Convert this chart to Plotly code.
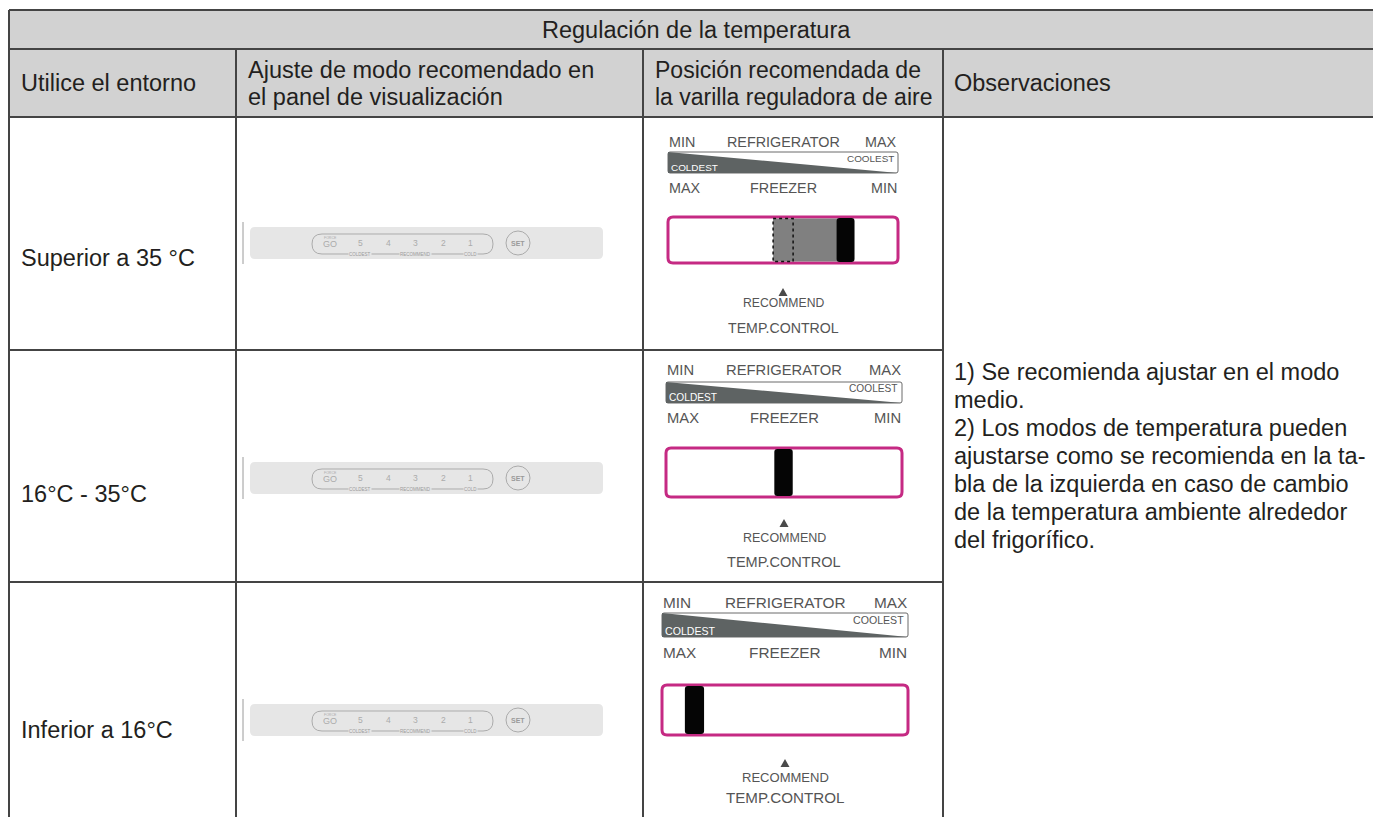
import plotly.graph_objects as go

# ---------------- data ----------------
title = "Regulación de la temperatura"
col_headers = [
    ["Utilice el entorno"],
    ["Ajuste de modo recomendado en", "el panel de visualización"],
    ["Posición recomendada de", "la varilla reguladora de aire"],
    ["Observaciones"],
]
environments = ["Superior a 35 °C", "16°C - 35°C", "Inferior a 16°C"]
# black knob position along the air-control slot (0 = left / MAX freezer, 1 = right / MIN)
knob_position = [0.772, 0.498, 0.132]
# start of the shaded (adjustable) range, None when there is none
shaded_from = [0.457, None, None]
panel_modes = ["5", "4", "3", "2", "1"]
panel_sublabels = ["COLDEST", "RECOMMEND", "COLD"]
remarks = [
    "1) Se recomienda ajustar en el modo",
    "medio.",
    "2) Los modos de temperatura pueden",
    "ajustarse como se recomienda en la ta-",
    "bla de la izquierda en caso de cambio",
    "de la temperatura ambiente alrededor",
    "del frigorífico.",
]
dial_top = ["MIN", "REFRIGERATOR", "MAX"]
dial_bottom = ["MAX", "FREEZER", "MIN"]

# ---------------- layout geometry (pixels) ----------------
W, H = 1373, 817
FONT = "Liberation Sans, Arial, sans-serif"
TXT = "#231f20"
GREY_TXT = "#555555"
LINE = "#444444"
PINK = "#C52A83"

X_L, X_R = 9, 1383
COLS = [9, 236, 643, 943, 1383]
PAD = [11, 11, 11, 10]
HEAD_FS = [23.5, 23.5, 23, 23.5]
Y_TOP, Y_H1, Y_H2 = 10, 49, 117
ROW_LINES = [117, 350, 582, 817]

row_text_y = [258, 494, 730]
panel_cy = [243, 478, 720]
dial_geo = [
    dict(x0=668, x1=898, ly=142, w0=152, w1=173, fy=188, r0=217, r1=263, ty=292, ry=303, cy=328),
    dict(x0=666, x1=902, ly=370, w0=382, w1=403, fy=418, r0=448, r1=497, ty=523, ry=538, cy=562),
    dict(x0=662, x1=908, ly=602, w0=613, w1=637, fy=652, r0=685, r1=735, ty=763, ry=777, cy=797),
]

shapes = []
ann = []


def rrect(x0, y0, x1, y1, r):
    return (f"M{x0+r},{y0} L{x1-r},{y0} Q{x1},{y0} {x1},{y0+r} L{x1},{y1-r} "
            f"Q{x1},{y1} {x1-r},{y1} L{x0+r},{y1} Q{x0},{y1} {x0},{y1-r} "
            f"L{x0},{y0+r} Q{x0},{y0} {x0+r},{y0} Z")


def text(x, y, s, size, color=TXT, xa="left", ya="middle", bg=None, fam=FONT):
    d = dict(x=x, y=y, xref="x", yref="y", text=s, showarrow=False,
             xanchor=xa, yanchor=ya, font=dict(family=fam, size=size, color=color),
             borderpad=0)
    if bg:
        d["bgcolor"] = bg
    ann.append(d)


def line(x0, y0, x1, y1, color=LINE, w=2, dash=None):
    ln = dict(color=color, width=w)
    if dash:
        ln["dash"] = dash
    shapes.append(dict(type="line", xref="x", yref="y", x0=x0, y0=y0, x1=x1, y1=y1, line=ln))


# ---------------- table ----------------
shapes.append(dict(type="rect", xref="x", yref="y", x0=X_L, x1=X_R, y0=Y_TOP, y1=Y_H2,
                   fillcolor="#d2d2d2", line=dict(width=0), layer="below"))
for y in [Y_TOP, Y_H1, Y_H2]:
    line(X_L, y, X_R, y)
for y in ROW_LINES[1:3]:
    line(X_L, y, COLS[3], y)
line(COLS[0], Y_TOP, COLS[0], H)
for x in COLS[1:4]:
    line(x, Y_H1, x, H)

text((X_L + X_R) / 2, (Y_TOP + Y_H1) / 2, title, 23.5, xa="center")
hy = (Y_H1 + Y_H2) / 2
for ci, lines in enumerate(col_headers):
    n = len(lines)
    for li, s in enumerate(lines):
        text(COLS[ci] + PAD[ci], hy + (li - (n - 1) / 2) * 27, s, HEAD_FS[ci])

for i, env in enumerate(environments):
    text(COLS[0] + PAD[0], row_text_y[i], env, 23.5)

rem_y0 = 372
for i, s in enumerate(remarks):
    text(COLS[3] + PAD[3], rem_y0 + i * 28, s, 23.5)

# ---------------- display panels ----------------
PANEL_BG = "#e6e6e6"
PANEL_FG = "#ababab"
for i in range(3):
    cy = panel_cy[i]
    line(243, cy - 21, 243, cy + 21, color="#9a9a9a", w=1)
    shapes.append(dict(type="path", xref="x", yref="y", path=rrect(250, cy - 16, 603, cy + 16, 5),
                       fillcolor=PANEL_BG, line=dict(width=0)))
    shapes.append(dict(type="path", xref="x", yref="y", path=rrect(312, cy - 9, 493, cy + 11, 10),
                       fillcolor="rgba(0,0,0,0)", line=dict(color=PANEL_FG, width=1)))
    text(330, cy - 5, "FORCE", 3.5, color=PANEL_FG, xa="center")
    text(330, cy + 1, "GO", 9, color=PANEL_FG, xa="center")
    xs = [360, 388, 415, 443, 470]
    for x, m in zip(xs, panel_modes):
        text(x, cy, m, 8.5, color=PANEL_FG, xa="center")
    for x, s in zip([360, 415, 470], panel_sublabels):
        text(x, cy + 11, s, 4.5, color="#9a9a9a", xa="center", bg=PANEL_BG)
    shapes.append(dict(type="circle", xref="x", yref="y", x0=506, x1=530, y0=cy - 12, y1=cy + 12,
                       line=dict(color=PANEL_FG, width=1), fillcolor="rgba(0,0,0,0)"))
    text(518, cy, "<b>SET</b>", 7, color="#9a9a9a", xa="center")

# ---------------- air-control dials ----------------
for i, g in enumerate(dial_geo):
    x0, x1 = g["x0"], g["x1"]
    xc = (x0 + x1) / 2
    fs = 14.5 * (x1 - x0) / 232
    text(x0, g["ly"], dial_top[0], fs, GREY_TXT, xa="left")
    text(xc, g["ly"], dial_top[1], fs, GREY_TXT, xa="center")
    text(x1, g["ly"], dial_top[2], fs, GREY_TXT, xa="right")
    shapes.append(dict(type="path", xref="x", yref="y", path=rrect(x0, g["w0"], x1, g["w1"], 2),
                       fillcolor="white", line=dict(color="#6a6a6a", width=1)))
    shapes.append(dict(type="path", xref="x", yref="y",
                       path=f"M{x0},{g['w0']} L{x1},{g['w1']} L{x0},{g['w1']} Z",
                       fillcolor="#5e6363", line=dict(width=0)))
    sm = 10 * (x1 - x0) / 232
    text(x0 + 2, g["w1"] - 6, "COLDEST", sm, "white", xa="left")
    text(x1 - 3, g["w0"] + 6.5, "COOLEST", sm, GREY_TXT, xa="right")
    text(x0, g["fy"], dial_bottom[0], fs, GREY_TXT, xa="left")
    text(xc, g["fy"], dial_bottom[1], fs, GREY_TXT, xa="center")
    text(x1, g["fy"], dial_bottom[2], fs, GREY_TXT, xa="right")
    r0, r1 = g["r0"], g["r1"]
    shapes.append(dict(type="path", xref="x", yref="y", path=rrect(x0, r0, x1, r1, 5),
                       fillcolor="white", line=dict(color=PINK, width=3)))
    span = x1 - x0
    kw = 0.078 * span
    kc = x0 + knob_position[i] * span
    if shaded_from[i] is not None:
        sx = x0 + shaded_from[i] * span
        shapes.append(dict(type="rect", xref="x", yref="y", x0=sx, x1=kc, y0=r0 + 1.5, y1=r1 - 1.5,
                           fillcolor="#808080", line=dict(width=0)))
        shapes.append(dict(type="rect", xref="x", yref="y", x0=sx, x1=sx + 20, y0=r0 + 1.5, y1=r1 - 1.5,
                           fillcolor="rgba(0,0,0,0)", line=dict(color="#111111", width=1.5, dash="dot")))
    shapes.append(dict(type="path", xref="x", yref="y",
                       path=rrect(kc - kw / 2, r0 + 1, kc + kw / 2, r1 - 1, 3),
                       fillcolor="#050505", line=dict(width=0)))
    ty = g["ty"]
    shapes.append(dict(type="path", xref="x", yref="y",
                       path=f"M{xc - 4.5},{ty + 4} L{xc + 4.5},{ty + 4} L{xc},{ty - 4} Z",
                       fillcolor="#4a4a4a", line=dict(width=0)))
    text(xc, g["ry"], "RECOMMEND", 12.3 * (x1 - x0) / 232, GREY_TXT, xa="center")
    text(xc, g["cy"], "TEMP.CONTROL", 14.3 * (x1 - x0) / 232, GREY_TXT, xa="center")

fig = go.Figure()
fig.update_layout(
    width=W, height=H,
    margin=dict(l=0, r=0, t=0, b=0),
    paper_bgcolor="white", plot_bgcolor="white",
    xaxis=dict(range=[0, W], visible=False, fixedrange=True),
    yaxis=dict(range=[H, 0], visible=False, fixedrange=True),
    shapes=shapes, annotations=ann, showlegend=False,
)
fig.write_html("out.html", config={"displayModeBar": False},
               post_script="document.body.style.margin='0';document.body.style.overflow='hidden';")
